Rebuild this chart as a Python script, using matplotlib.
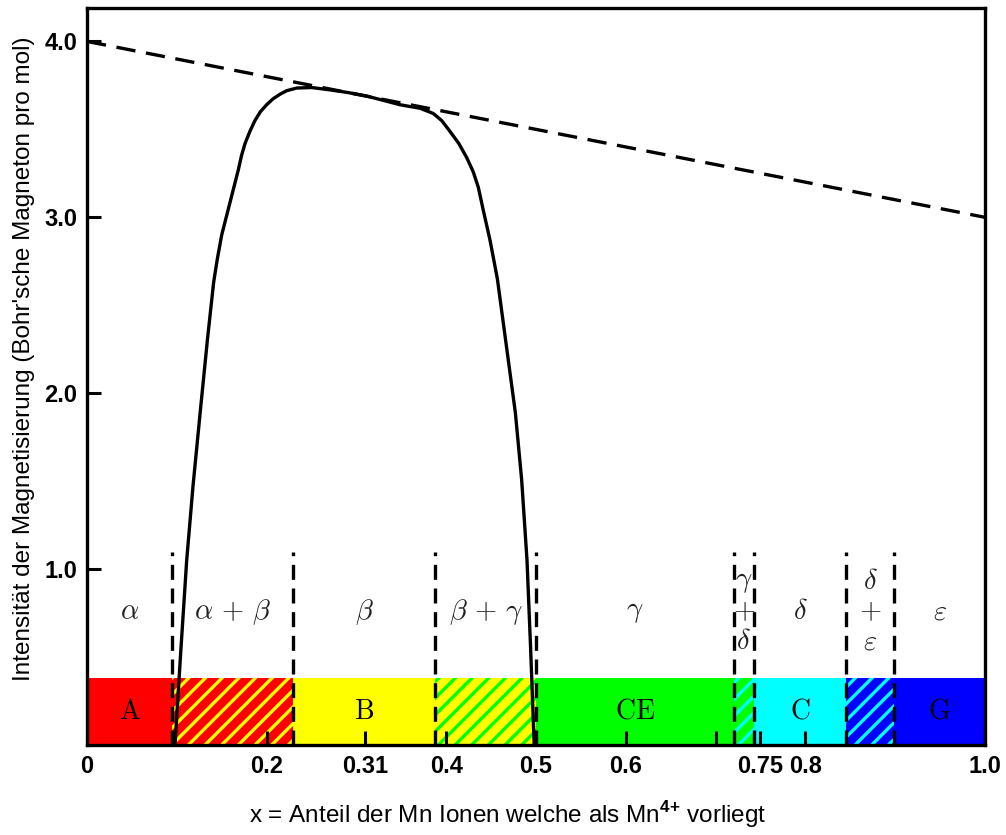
import matplotlib
matplotlib.use("Agg")
import matplotlib.pyplot as plt

plt.rcParams['font.family'] = ['Liberation Sans', 'DejaVu Sans']
plt.rcParams['mathtext.fontset'] = 'custom'
plt.rcParams['mathtext.rm'] = 'Liberation Sans'
plt.rcParams['mathtext.bf'] = 'Liberation Sans:bold'
plt.rcParams['hatch.linewidth'] = 2.4

# Magnetisation curve, x = Mn4+ fraction, y = Bohr magnetons per mol
curve_x = [0.098, 0.104, 0.111, 0.118, 0.126, 0.134, 0.141, 0.145, 0.150, 0.155,
           0.159, 0.164, 0.1685, 0.172, 0.176, 0.1815, 0.187, 0.193, 0.200, 0.2075,
           0.215, 0.2224, 0.2335, 0.250, 0.270, 0.290, 0.311, 0.330, 0.3486, 0.371,
           0.3857, 0.395, 0.404, 0.414, 0.4228, 0.430, 0.4358, 0.4413, 0.4488, 0.457,
           0.467, 0.477, 0.484, 0.490, 0.494, 0.498]
curve_y = [0.00, 0.50, 1.05, 1.47, 1.89, 2.30, 2.63, 2.76, 2.90, 3.00,
           3.08, 3.18, 3.27, 3.35, 3.42, 3.49, 3.55, 3.60, 3.64, 3.675,
           3.70, 3.72, 3.735, 3.738, 3.725, 3.71, 3.69, 3.665, 3.64, 3.62,
           3.59, 3.55, 3.49, 3.42, 3.34, 3.26, 3.17, 3.04, 2.87, 2.65,
           2.27, 1.89, 1.51, 1.05, 0.55, 0.00]

# theoretical spin-only moment: 4 - x
theory_x = [0.0, 1.0]
theory_y = [4.0, 3.0]

# phase regions along x
bounds = [0.0, 0.095, 0.229, 0.388, 0.5, 0.72, 0.743, 0.845, 0.899, 1.0]
phases = [r'$\alpha$', r'$\alpha\,+\,\beta$', r'$\beta$', r'$\beta\,+\,\gamma$', r'$\gamma$',
          '$\\gamma$\n$+$\n$\\delta$', r'$\delta$', '$\\delta$\n$+$\n$\\varepsilon$',
          r'$\varepsilon$']
face_colors = ['#ff0000', '#ff0000', '#ffff00', '#ffff00', '#00ff00',
               '#00ff00', '#00ffff', '#0000ff', '#0000ff']
hatch_colors = [None, '#ffff00', None, '#00ff00', None,
                '#00ffff', None, '#00ffff', None]
structures = ['A', '', 'B', '', 'CE', '', 'C', '', 'G']

band_top = 0.38
divider_top = 1.1

xticks = [0, 0.2, 0.31, 0.4, 0.5, 0.6, 0.7, 0.75, 0.8, 1.0]
xticklabels = ['0', '0.2', '0.31', '0.4', '0.5', '0.6', '', '0.75', '0.8', '1.0']
yticks = [1.0, 2.0, 3.0, 4.0]
yticklabels = ['1.0', '2.0', '3.0', '4.0']

fig = plt.figure(figsize=(10.06, 8.35), dpi=100)
ax = fig.add_axes([0.0865, 0.1078, 0.8926, 0.8826])

for i in range(len(phases)):
    left, right = bounds[i], bounds[i + 1]
    mid = (left + right) / 2
    if hatch_colors[i] is None:
        ax.bar(left, band_top, width=right - left, align='edge',
               color=face_colors[i], linewidth=0, zorder=1)
    else:
        ax.bar(left, band_top, width=right - left, align='edge',
               facecolor=face_colors[i], edgecolor=hatch_colors[i],
               hatch='//', linewidth=0, zorder=1)
    if structures[i]:
        ax.text(mid, 0.19, r'$\mathrm{' + structures[i] + '}$', math_fontfamily='cm',
                ha='center', va='center', fontsize=20, zorder=3)
    ax.text(mid, 0.755, phases[i], math_fontfamily='cm', ha='center', va='center',
            fontsize=20.5, linespacing=1.2, color='#222222', zorder=3)

for b in bounds[1:-1]:
    ax.plot([b, b], [0, divider_top], color='black', lw=2.4,
            linestyle=(0, (4.5, 2.6)), zorder=2)

ax.plot(theory_x, theory_y, color='black', lw=2.4, linestyle=(0, (5.8, 3.2)), zorder=4)
ax.plot(curve_x, curve_y, color='black', lw=2.4, zorder=5,
        solid_joinstyle='round', solid_capstyle='butt')

ax.set_xlim(0, 1.0)
ax.set_ylim(0, 4.19)
ax.set_xticks(xticks)
ax.set_xticklabels(xticklabels, fontsize=17, fontweight='bold')
ax.set_yticks(yticks)
ax.set_yticklabels(yticklabels, fontsize=17, fontweight='bold')
ax.tick_params(direction='in', length=10, width=2.2, pad=7, top=False, right=False)

for s in ax.spines.values():
    s.set_linewidth(2.4)

ax.set_xlabel(r'x = Anteil der Mn Ionen welche als Mn$^{\mathbf{4{+}}}$ vorliegt',
              fontsize=17.5)
ax.xaxis.set_label_coords(0.468, -0.074)
ax.set_ylabel("Intensität der Magnetisierung (Bohr'sche Magneton pro mol)",
              fontsize=17.5)
ax.yaxis.set_label_coords(-0.058, 0.524)

fig.savefig('out.png', dpi=100)
